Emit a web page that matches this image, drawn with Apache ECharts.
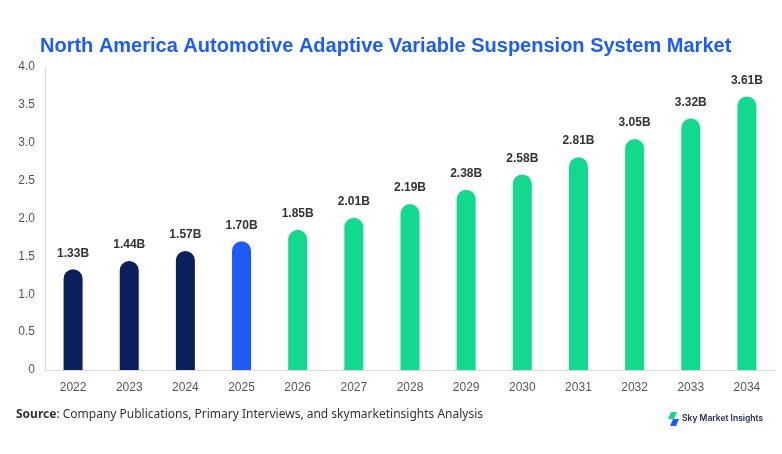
<!DOCTYPE html>
<html>
<head>
<meta charset="utf-8">
<script src="https://cdn.jsdelivr.net/npm/echarts@6/dist/echarts.min.js"></script>
<style>
  html, body { margin: 0; padding: 0; background: #fff; }
  #chart { width: 782px; height: 454px; }
</style>
</head>
<body>
<div id="chart"></div>
<script>
var years = ['2022', '2023', '2024', '2025', '2026', '2027', '2028', '2029', '2030', '2031', '2032', '2033', '2034'];
var values = [1.33, 1.44, 1.57, 1.70, 1.85, 2.01, 2.19, 2.38, 2.58, 2.81, 3.05, 3.32, 3.61];
var barColors = ['#0b1f5c', '#0b1f5c', '#0b1f5c', '#1e5af5', '#12d98e', '#12d98e', '#12d98e', '#12d98e', '#12d98e', '#12d98e', '#12d98e', '#12d98e', '#12d98e'];

var myChart = echarts.init(document.getElementById('chart'));

var option = {
    backgroundColor: '#fff',
    animation: false,
    title: {
        text: 'North America Automotive Adaptive Variable Suspension System Market',
        left: 35,
        top: 31,
        textStyle: {
            color: '#1d5cf5',
            fontFamily: 'Liberation Sans',
            fontWeight: 'bold',
            fontSize: 20
        }
    },
    grid: {
        left: 45,
        right: 7,
        top: 67,
        bottom: 84
    },
    xAxis: {
        type: 'category',
        data: years,
        axisTick: { show: false },
        axisLine: { lineStyle: { color: '#d9d9d9' } },
        axisLabel: {
            color: '#555',
            fontFamily: 'Liberation Sans',
            fontSize: 12,
            margin: 12
        }
    },
    yAxis: {
        type: 'value',
        min: 0,
        max: 4,
        interval: 0.5,
        axisLine: { show: true, lineStyle: { color: '#d9d9d9' } },
        axisTick: { show: false },
        splitLine: { show: false },
        axisLabel: {
            color: '#555',
            fontFamily: 'Liberation Sans',
            fontSize: 12,
            margin: 10,
            formatter: function (v) {
                return v === 0 ? '0' : v.toFixed(1);
            }
        }
    },
    series: [{
        type: 'bar',
        barWidth: 19,
        data: values.map(function (v, i) {
            return { value: v, itemStyle: { color: barColors[i] } };
        }),
        itemStyle: {
            borderRadius: [10, 10, 0, 0]
        },
        label: {
            show: true,
            position: 'top',
            distance: 10,
            color: '#333',
            fontFamily: 'Liberation Sans',
            fontWeight: 'bold',
            fontSize: 12,
            formatter: function (p) {
                return p.value.toFixed(2) + 'B';
            }
        }
    }],
    graphic: [
        {
            type: 'text',
            left: 16,
            top: 409,
            style: {
                text: '{b|Source}: Company Publications, Primary Interviews, and skymarketinsights Analysis',
                fill: '#333',
                font: '12px "Noto Sans"',
                rich: {
                    b: { fontWeight: 'bold', fontFamily: 'Noto Sans', fontSize: 12, fill: '#333' }
                }
            }
        },
        {
            type: 'polygon',
            shape: { points: [[671, 412], [677, 412], [674, 419], [668, 419]] },
            style: { fill: '#12d98e' }
        },
        {
            type: 'polygon',
            shape: { points: [[673, 419], [679, 419], [676, 426], [670, 426]] },
            style: { fill: '#1e5af5' }
        },
        {
            type: 'text',
            left: 682,
            top: 414,
            style: {
                text: 'Sky Market Insights',
                fill: '#1b2550',
                font: '600 8.5px "Inter"'
            }
        }
    ]
};

myChart.setOption(option);
</script>
</body>
</html>
